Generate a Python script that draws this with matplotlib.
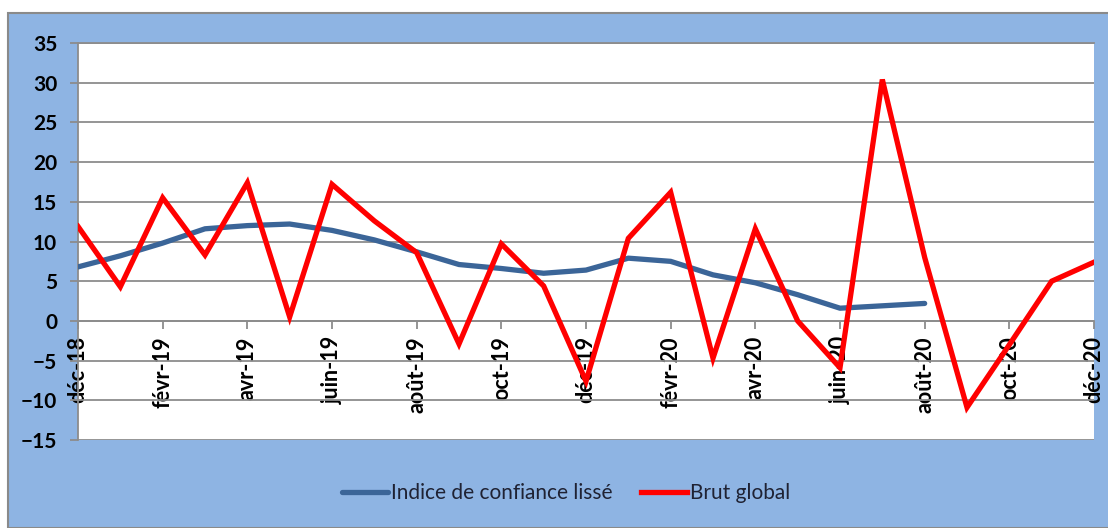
import matplotlib
matplotlib.use("Agg")
import matplotlib.pyplot as plt
from matplotlib.patches import Rectangle

plt.rcParams["font.family"] = ["Lato", "DejaVu Sans"]

BG_BLUE = "#8EB4E3"
LINE_BLUE = "#3B6598"
RED = "#FF0000"
GRID = "#8C8C8C"

months = ["déc-18", "janv-19", "févr-19", "mars-19", "avr-19", "mai-19",
          "juin-19", "juil-19", "août-19", "sept-19", "oct-19", "nov-19",
          "déc-19", "janv-20", "févr-20", "mars-20", "avr-20", "mai-20",
          "juin-20", "juil-20", "août-20", "sept-20", "oct-20", "nov-20",
          "déc-20"]

# smoothed index (stops at août-20)
indice_lisse = [6.8, 8.2, 9.8, 11.6, 12.0, 12.2, 11.4, 10.2, 8.7, 7.1,
                6.6, 6.0, 6.4, 7.9, 7.5, 5.8, 4.8, 3.3, 1.6, 1.9, 2.2]
brut_global = [11.9, 4.3, 15.5, 8.3, 17.4, 0.5, 17.2, 12.6, 8.6, -2.9,
               9.7, 4.4, -7.6, 10.4, 16.2, -4.7, 11.6, 0.0, -5.9, 30.4,
               8.0, -10.9, -3.0, 5.0, 7.4]

fig = plt.figure(figsize=(11.08, 5.28), dpi=100)
fig.patch.set_facecolor("white")
# blue chart frame
fig.patches.append(Rectangle((8/1108, 0), 1.0, 1 - 13/528, transform=fig.transFigure,
                             facecolor=BG_BLUE, edgecolor="#8A8A8A", lw=1.5, zorder=-10))

ax = fig.add_axes([78/1108, 1 - 440/528, (1094 - 78)/1108, (440 - 43)/528])
ax.set_facecolor("white")

x = list(range(len(months)))
ax.plot(x[:len(indice_lisse)], indice_lisse, color=LINE_BLUE, lw=3.8,
        solid_capstyle="round", zorder=3, label="Indice de confiance lissé")
ax.plot(x, brut_global, color=RED, lw=3.8, solid_joinstyle="miter",
        zorder=4, label="Brut global")

ax.set_xlim(0, len(months) - 1)
ax.set_ylim(-15, 35)
ax.set_yticks(range(-15, 40, 5))
ax.yaxis.grid(True, color=GRID, lw=1.3)
ax.set_axisbelow(True)

ax.spines["bottom"].set_position(("data", 0))
ax.spines["right"].set_visible(False)
for s in ("bottom", "left", "top"):
    ax.spines[s].set_color(GRID)
    ax.spines[s].set_linewidth(1.3)

ax.set_xticks(x[::2])
ax.set_xticklabels(months[::2], rotation=90, fontsize=15.5, fontweight="bold")
ax.tick_params(axis="x", direction="out", length=6, width=1.3, color=GRID, pad=5)
ax.tick_params(axis="y", direction="out", length=6, width=1.3, color=GRID, pad=9,
               labelsize=15)
for lab in ax.get_yticklabels():
    lab.set_fontweight("bold")

fig.legend(loc="center", bbox_to_anchor=(0.511, 0.066), ncol=2, frameon=False,
           fontsize=15, handlelength=2.2, columnspacing=1.4, handletextpad=0.15,
           labelcolor="#1F2233")

fig.savefig("out.png", dpi=100)
